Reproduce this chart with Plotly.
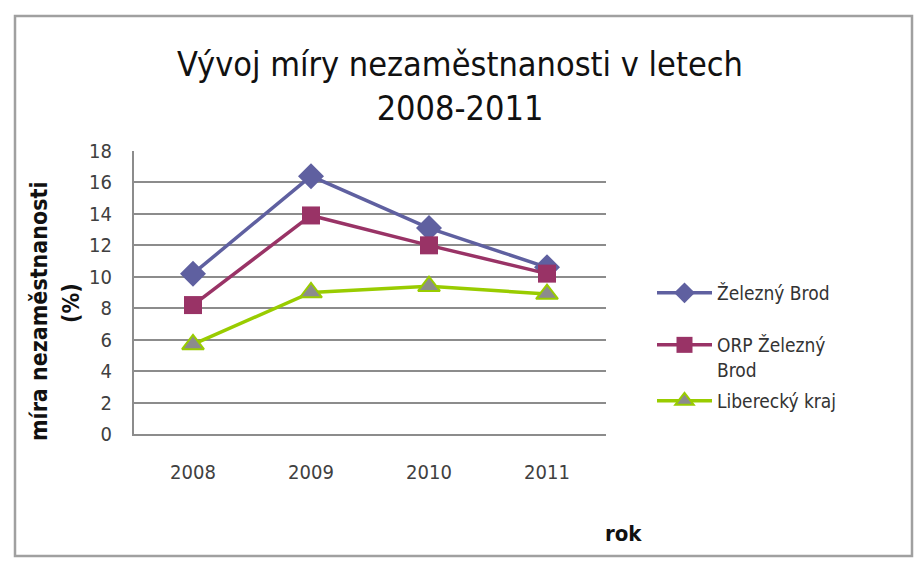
import plotly.graph_objects as go

years = ["2008", "2009", "2010", "2011"]
zelezny_brod = [10.2, 16.4, 13.1, 10.6]
orp_zelezny_brod = [8.2, 13.9, 12.0, 10.2]
liberecky_kraj = [5.7, 9.0, 9.4, 8.9]
series_names = ["Železný Brod", "ORP Železný<br>Brod", "Liberecký kraj"]
y_ticks = [0, 2, 4, 6, 8, 10, 12, 14, 16, 18]

W, H = 917, 561
L, R, T, B = 134, 606, 151, 434
pw, ph = R - L, B - T

def px(x):
    return (x - L) / pw

def py(y):
    return (B - y) / ph

FONT = "DejaVu Sans Condensed, Liberation Sans Narrow, Open Sans"

fig = go.Figure()
fig.add_trace(go.Scatter(
    x=years, y=zelezny_brod, name=series_names[0], mode="lines+markers",
    line=dict(color="#5F60A0", width=3.5),
    marker=dict(symbol="diamond", size=20, color="#5F60A0"),
    legend="legend"))
fig.add_trace(go.Scatter(
    x=years, y=orp_zelezny_brod, name=series_names[1], mode="lines+markers",
    line=dict(color="#993366", width=3.5),
    marker=dict(symbol="square", size=18, color="#993366"),
    legend="legend2"))
fig.add_trace(go.Scatter(
    x=years, y=liberecky_kraj, name=series_names[2], mode="lines+markers",
    line=dict(color="#99CC00", width=3.5),
    marker=dict(symbol="triangle-up", size=19, color="#8C8C8C",
                line=dict(color="#99CC00", width=2)),
    legend="legend3"))

legend_common = dict(font=dict(family=FONT, size=19, color="#333333"),
                     bgcolor="rgba(0,0,0,0)", itemwidth=55,
                     xanchor="left", yanchor="top", valign="top")

fig.update_layout(
    width=W, height=H,
    margin=dict(l=L, r=W - R, t=T, b=H - B),
    paper_bgcolor="white", plot_bgcolor="white",
    title=dict(text="Vývoj míry nezaměstnanosti v letech<br>2008-2011",
               font=dict(family=FONT, size=34, color="#111111"),
               x=460 / W, xanchor="center", xref="container",
               y=1 - 76 / H, yanchor="middle", yref="container"),
    xaxis=dict(type="category", range=[-0.5, 3.5], showgrid=False,
               showline=True, linecolor="#8C8C8C", linewidth=2,
               ticks="", ticklabelstandoff=19,
               tickfont=dict(family=FONT, size=20, color="#404040")),
    yaxis=dict(range=[0, 18], tickvals=y_ticks, showgrid=True,
               gridcolor="#8C8C8C", gridwidth=2, zeroline=False,
               showline=True, linecolor="#8C8C8C", linewidth=2,
               ticks="", ticklabelstandoff=16,
               tickfont=dict(family=FONT, size=20, color="#404040")),
    legend=dict(x=px(652), y=py(274), **legend_common),
    legend2=dict(x=px(652), y=py(326), **legend_common),
    legend3=dict(x=px(652), y=py(382), **legend_common),
    showlegend=True,
)

fig.add_shape(type="rect", xref="paper", yref="paper",
              x0=px(15), x1=px(912), y0=py(556), y1=py(16),
              line=dict(color="#A0A0A0", width=2.5), fillcolor="rgba(0,0,0,0)",
              layer="below")

fig.add_annotation(text="míra nezaměstnanosti", xref="paper", yref="paper",
                   x=px(39), y=py(311), textangle=-90, showarrow=False,
                   xanchor="center", yanchor="middle",
                   font=dict(family=FONT, size=23, color="#111111", weight="bold"))
fig.add_annotation(text="(%)", xref="paper", yref="paper",
                   x=px(71), y=py(303), textangle=-90, showarrow=False,
                   xanchor="center", yanchor="middle",
                   font=dict(family=FONT, size=23, color="#111111", weight="bold"))
fig.add_annotation(text="rok", xref="paper", yref="paper",
                   x=px(623), y=py(533), showarrow=False,
                   xanchor="center", yanchor="middle",
                   font=dict(family=FONT, size=22, color="#111111", weight="bold"))

fig.write_html("out.html", config={"displayModeBar": False},
               post_script="document.body.style.margin='0';")
